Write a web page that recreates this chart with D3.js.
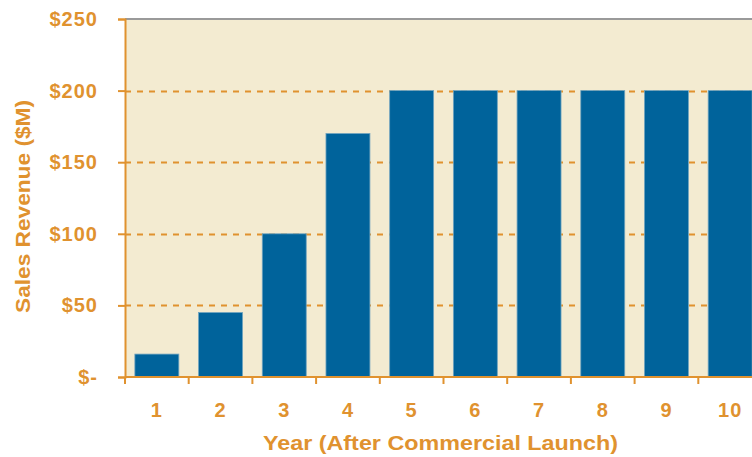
<!DOCTYPE html>
<meta charset="utf-8">
<script src="https://d3js.org/d3.v7.min.js"></script>
<style>
  body { margin: 0; background: #fff; }
  text { font-family: "Liberation Sans", Arial, sans-serif; font-weight: bold; fill: #E0922F; }
</style>
<div id="chart"></div>
<script>
// data
var years = ["1", "2", "3", "4", "5", "6", "7", "8", "9", "10"];
var revenue = [16, 45, 100, 170, 200, 200, 200, 200, 200, 200];
var yTicks = [0, 50, 100, 150, 200, 250];

var W = 752, H = 457;
var margin = {top: 19, left: 125};
var plotW = 637, plotH = 358;
var orange = "#E0922F";

var svg = d3.select("#chart").append("svg")
    .attr("width", W).attr("height", H);

var g = svg.append("g")
    .attr("transform", "translate(" + margin.left + "," + margin.top + ")");

var x = d3.scaleBand().domain(years).range([0, plotW]).paddingInner(0.31).paddingOuter(0.155);
var y = d3.scaleLinear().domain([0, 250]).range([plotH, 0]);

// background
g.append("rect").attr("width", plotW).attr("height", plotH).attr("fill", "#F3EBD1");
g.append("line").attr("x1", 0).attr("x2", plotW).attr("y1", 0).attr("y2", 0)
  .attr("stroke", "#9a9a9a").attr("stroke-width", 2);

// gridlines
g.selectAll(".grid").data(yTicks.filter(d => d > 0 && d < 250)).enter()
  .append("line")
  .attr("x1", 0).attr("x2", plotW)
  .attr("y1", d => Math.round(y(d)) + 0.5).attr("y2", d => Math.round(y(d)) + 0.5)
  .attr("stroke", orange).attr("stroke-width", 2).attr("stroke-dasharray", "6,6");

// bars
g.selectAll(".bar").data(revenue).enter()
  .append("rect")
  .attr("x", (d, i) => x(years[i]))
  .attr("width", x.bandwidth())
  .attr("y", d => y(d))
  .attr("height", d => plotH - y(d))
  .attr("fill", "#00639B")
  .attr("stroke", "#6fa3bf").attr("stroke-width", 0.8);

// y axis
var yAxis = g.append("g").call(d3.axisLeft(y).tickValues(yTicks).tickSize(7).tickPadding(20)
    .tickFormat(d => d === 0 ? "$-" : "$" + d));
yAxis.select(".domain").attr("stroke", orange).attr("stroke-width", 2);
yAxis.selectAll(".tick line").attr("stroke", orange).attr("stroke-width", 2);
yAxis.selectAll("text").attr("fill", orange).style("font-size", "20px")
  .style("letter-spacing", "1px")
  .style("font-family", "Liberation Sans, Arial, sans-serif").style("font-weight", "bold");

// x axis
var xAxis = g.append("g").attr("transform", "translate(0," + plotH + ")");
xAxis.append("line").attr("x1", 0).attr("x2", plotW).attr("stroke", orange).attr("stroke-width", 2);
var step = x.step();
xAxis.selectAll(".xt").data(d3.range(years.length + 1)).enter()
  .append("line")
  .attr("x1", i => i * step).attr("x2", i => i * step)
  .attr("y1", 0).attr("y2", 7)
  .attr("stroke", orange).attr("stroke-width", 2);
xAxis.selectAll(".xl").data(years).enter()
  .append("text")
  .attr("x", d => x(d) + x.bandwidth() / 2)
  .attr("y", 40)
  .attr("text-anchor", "middle")
  .style("font-size", "20px")
  .style("letter-spacing", "1px")
  .text(d => d);

// titles
svg.append("text")
  .attr("x", 263).attr("y", 450)
  .attr("textLength", 355).attr("lengthAdjust", "spacingAndGlyphs")
  .style("font-size", "20px")
  .text("Year (After Commercial Launch)");

svg.append("text")
  .attr("transform", "translate(30,313) rotate(-90)")
  .attr("textLength", 213).attr("lengthAdjust", "spacingAndGlyphs")
  .style("font-size", "20px")
  .text("Sales Revenue ($M)");
</script>
